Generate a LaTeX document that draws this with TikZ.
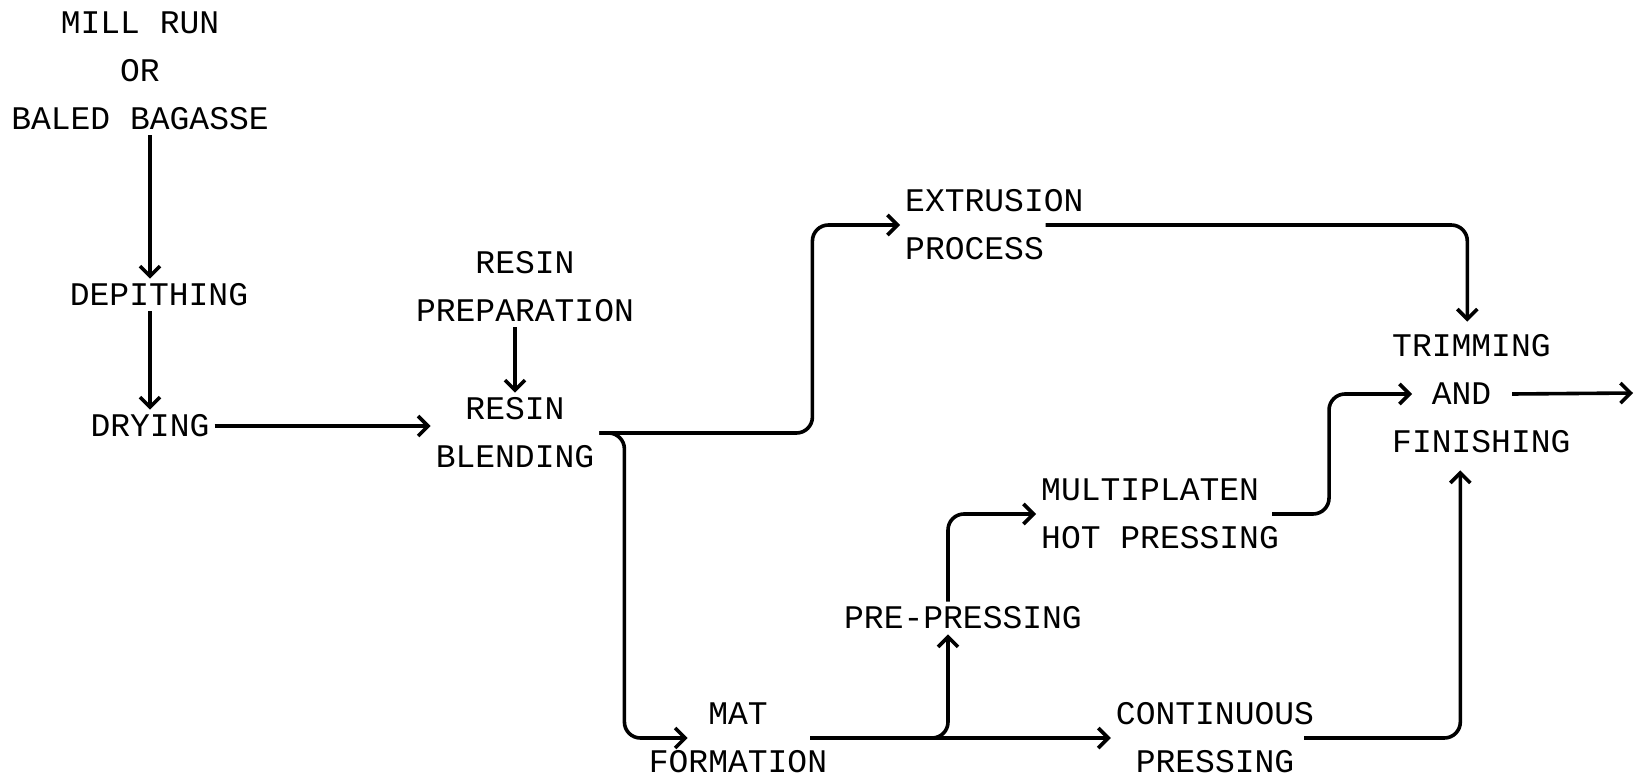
\documentclass[tikz,border=0pt]{standalone}
\usepackage{fontspec}
\setmainfont{Liberation Mono}
\usetikzlibrary{arrows.meta}

\begin{document}
\begin{tikzpicture}[
  x=1pt, y=-1pt,
  font=\fontsize{33}{48}\selectfont,
  stage/.style={inner sep=5pt, align=center},
  stagel/.style={stage, align=left, anchor=west},
  arr/.style={-{Straight Barb[length=10pt,width=20pt]}, line width=3.6pt,
              rounded corners=16pt}
]
\useasboundingbox (0,0) rectangle (1638,778);

% bagasse line
\node[stage] (src) at (140,71) {MILL RUN\\OR\\BALED BAGASSE};
\node[stage] (depith) at (159,295) {DEPITHING};
\node[stage] (drying) at (150,426) {DRYING};

% resin
\node[stage] (resprep) at (525,287) {RESIN\\PREPARATION};
\node[stage] (resblend) at (515,433) {RESIN\\BLENDING};

% forming and pressing
\node[stagel] (extr) at (900,225) {EXTRUSION\\PROCESS};
\node[stage] (mat) at (738,738) {MAT\\FORMATION};
\node[stage] (prep) at (963,618) {PRE-PRESSING};
\node[stagel] (multi) at (1036,514) {MULTIPLATEN\\HOT PRESSING};
\node[stage] (cont) at (1215,738) {CONTINUOUS\\PRESSING};
\node[stagel] (trim) at (1387,394) {TRIMMING\\\phantom{TR}AND\\FINISHING};
\coordinate (out) at (1633,393);

\draw[arr] (src.south -| drying) -- (depith.north -| drying);
\draw[arr] (depith.south -| drying) -- (drying.north);
\draw[arr] (drying.east) -- (drying.east -| resblend.west);
\draw[arr] (resblend.north |- resprep.south) -- (resblend.north);

\draw[arr] (resblend.east) -- ++(213,0) |- (extr.west);
\draw[arr] (resblend.east) -- ++(25,0) |- ([xshift=44pt]mat.west);

\draw[arr] ([xshift=-22pt]mat.east) -- (cont.west);
\draw[arr] ([xshift=-22pt]mat.east) -| ([xshift=-15pt]prep.south);
\draw[arr] ([xshift=-15pt]prep.north) |- (multi.west);

\draw[arr] ([xshift=-43pt]extr.east) -| ([xshift=-14pt,yshift=8pt]trim.north);
\draw[arr] ([xshift=-12pt]multi.east) -- ++(57,0) |- ([xshift=25pt]trim.west);
\draw[arr] ([xshift=-15pt]cont.east) -| ([xshift=-21pt,yshift=-12pt]trim.south);
\draw[arr] ([xshift=125pt]trim.west) -- (out);
\end{tikzpicture}
\end{document}
